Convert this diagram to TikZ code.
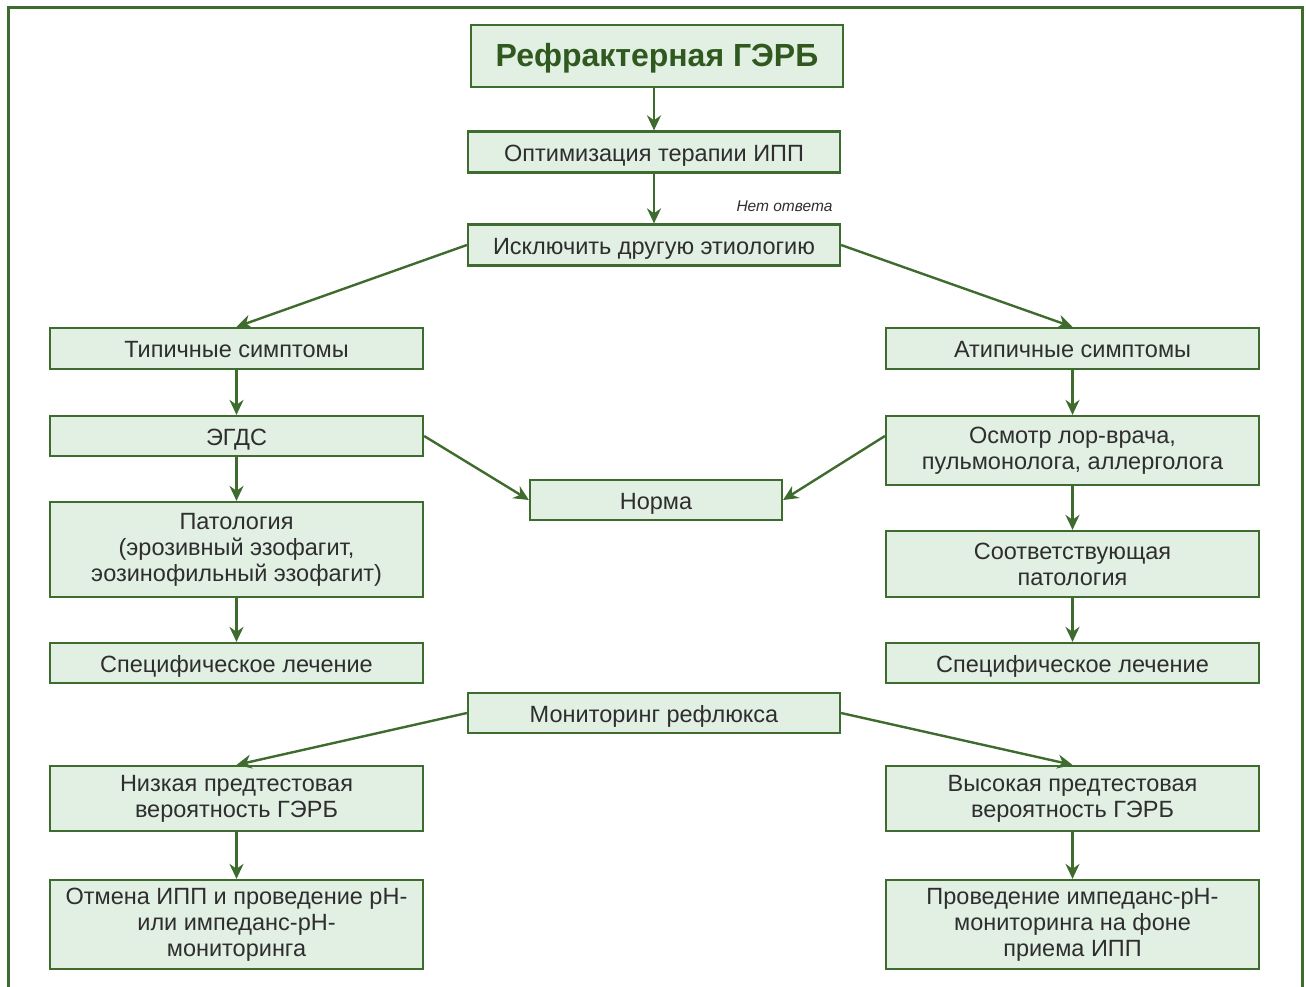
\documentclass[tikz,border=0pt]{standalone}
\usepackage{fontspec}
\setmainfont{Liberation Sans}
\usetikzlibrary{arrows.meta,calc}
\definecolor{boxfill}{HTML}{E2EFE3}
\definecolor{boxdraw}{HTML}{3E6B2E}
\definecolor{titlegreen}{HTML}{30591F}
\definecolor{txt}{HTML}{2E2E2E}
\tikzset{
  box/.style={draw=boxdraw, fill=boxfill, line width=2.2pt, minimum height=#1, align=center, text=txt, inner sep=1pt, font=\fontsize{23.5}{26}\selectfont},
  box/.default=41pt,
  oneline/.style={text height=20.5pt, text depth=2pt},
  side/.style={minimum width=373pt},
  mid/.style={minimum width=372pt},
  arr/.style={draw=boxdraw, line width=2.4pt, -{Stealth[length=15pt,width=14pt]}},
}
\begin{document}
\begin{tikzpicture}[x=1pt,y=-1pt]
\useasboundingbox (0,0) rectangle (1306,987);
\draw[boxdraw, line width=3pt] (8,990) -- (8,8) -- (1302,8) -- (1302,990);

\node[box=62pt, mid, text=titlegreen, font=\fontsize{32}{36}\selectfont\bfseries, text height=24pt, text depth=2pt] (title) at (657,56) {Рефрактерная ГЭРБ};
\node[box, mid, oneline] (opt) at (654,152) {Оптимизация терапии ИПП};
\node[box, mid, oneline] (excl) at (654,245) {Исключить другую этиологию};
\node[anchor=east, text=txt, font=\fontsize{15.5}{18}\selectfont\itshape] (noans) at (836,206) {Нет ответа};

\node[box, side, oneline] (typ) at (236.5,348.5) {Типичные симптомы};
\node[box, side, oneline] (atyp) at (1072.5,348.5) {Атипичные симптомы};
\node[box=40pt, side, oneline] (egds) at (236.5,436) {ЭГДС};
\node[box=69pt, side] (osm) at (1072.5,450.5) {Осмотр лор-врача,\\пульмонолога, аллерголога};
\node[box=40pt, minimum width=252pt, oneline] (norma) at (656,500) {Норма};
\node[box=95pt, side] (pat) at (236.5,549.5) {Патология\\(эрозивный эзофагит,\\эозинофильный эзофагит)};
\node[box=66pt, side] (sootv) at (1072.5,564) {Соответствующая\\патология};
\node[box=40pt, side, oneline] (specL) at (236.5,663) {Специфическое лечение};
\node[box=40pt, side, oneline] (specR) at (1072.5,663) {Специфическое лечение};
\node[box=40pt, mid, oneline] (mon) at (654,713) {Мониторинг рефлюкса};
\node[box=65pt, side] (low) at (236.5,798.5) {Низкая предтестовая\\вероятность ГЭРБ};
\node[box=65pt, side] (high) at (1072.5,798.5) {Высокая предтестовая\\вероятность ГЭРБ};
\node[box=89pt, side] (otm) at (236.5,924.5) {Отмена ИПП и проведение pH-\\или импеданс-pH-\\мониторинга};
\node[box=89pt, side] (prov) at (1072.5,924.5) {Проведение импеданс-pH-\\мониторинга на фоне\\приема ИПП};

\draw[arr] (title.south -| opt) -- (opt);
\draw[arr] (opt) -- (excl);
\draw[arr] (excl.west) -- (typ.north);
\draw[arr] (excl.east) -- (atyp.north);
\draw[arr] (typ) -- (egds);
\draw[arr] (atyp) -- (osm);
\draw[arr] (egds.east) -- (norma.west);
\draw[arr] (osm.west |- egds) -- (norma.east);
\draw[arr] (egds) -- (pat);
\draw[arr] (pat) -- (specL);
\draw[arr] (osm) -- (sootv);
\draw[arr] (sootv) -- (specR);
\draw[arr] (mon.west) -- (low.north);
\draw[arr] (mon.east) -- (high.north);
\draw[arr] (low) -- (otm);
\draw[arr] (high) -- (prov);
\end{tikzpicture}
\end{document}
